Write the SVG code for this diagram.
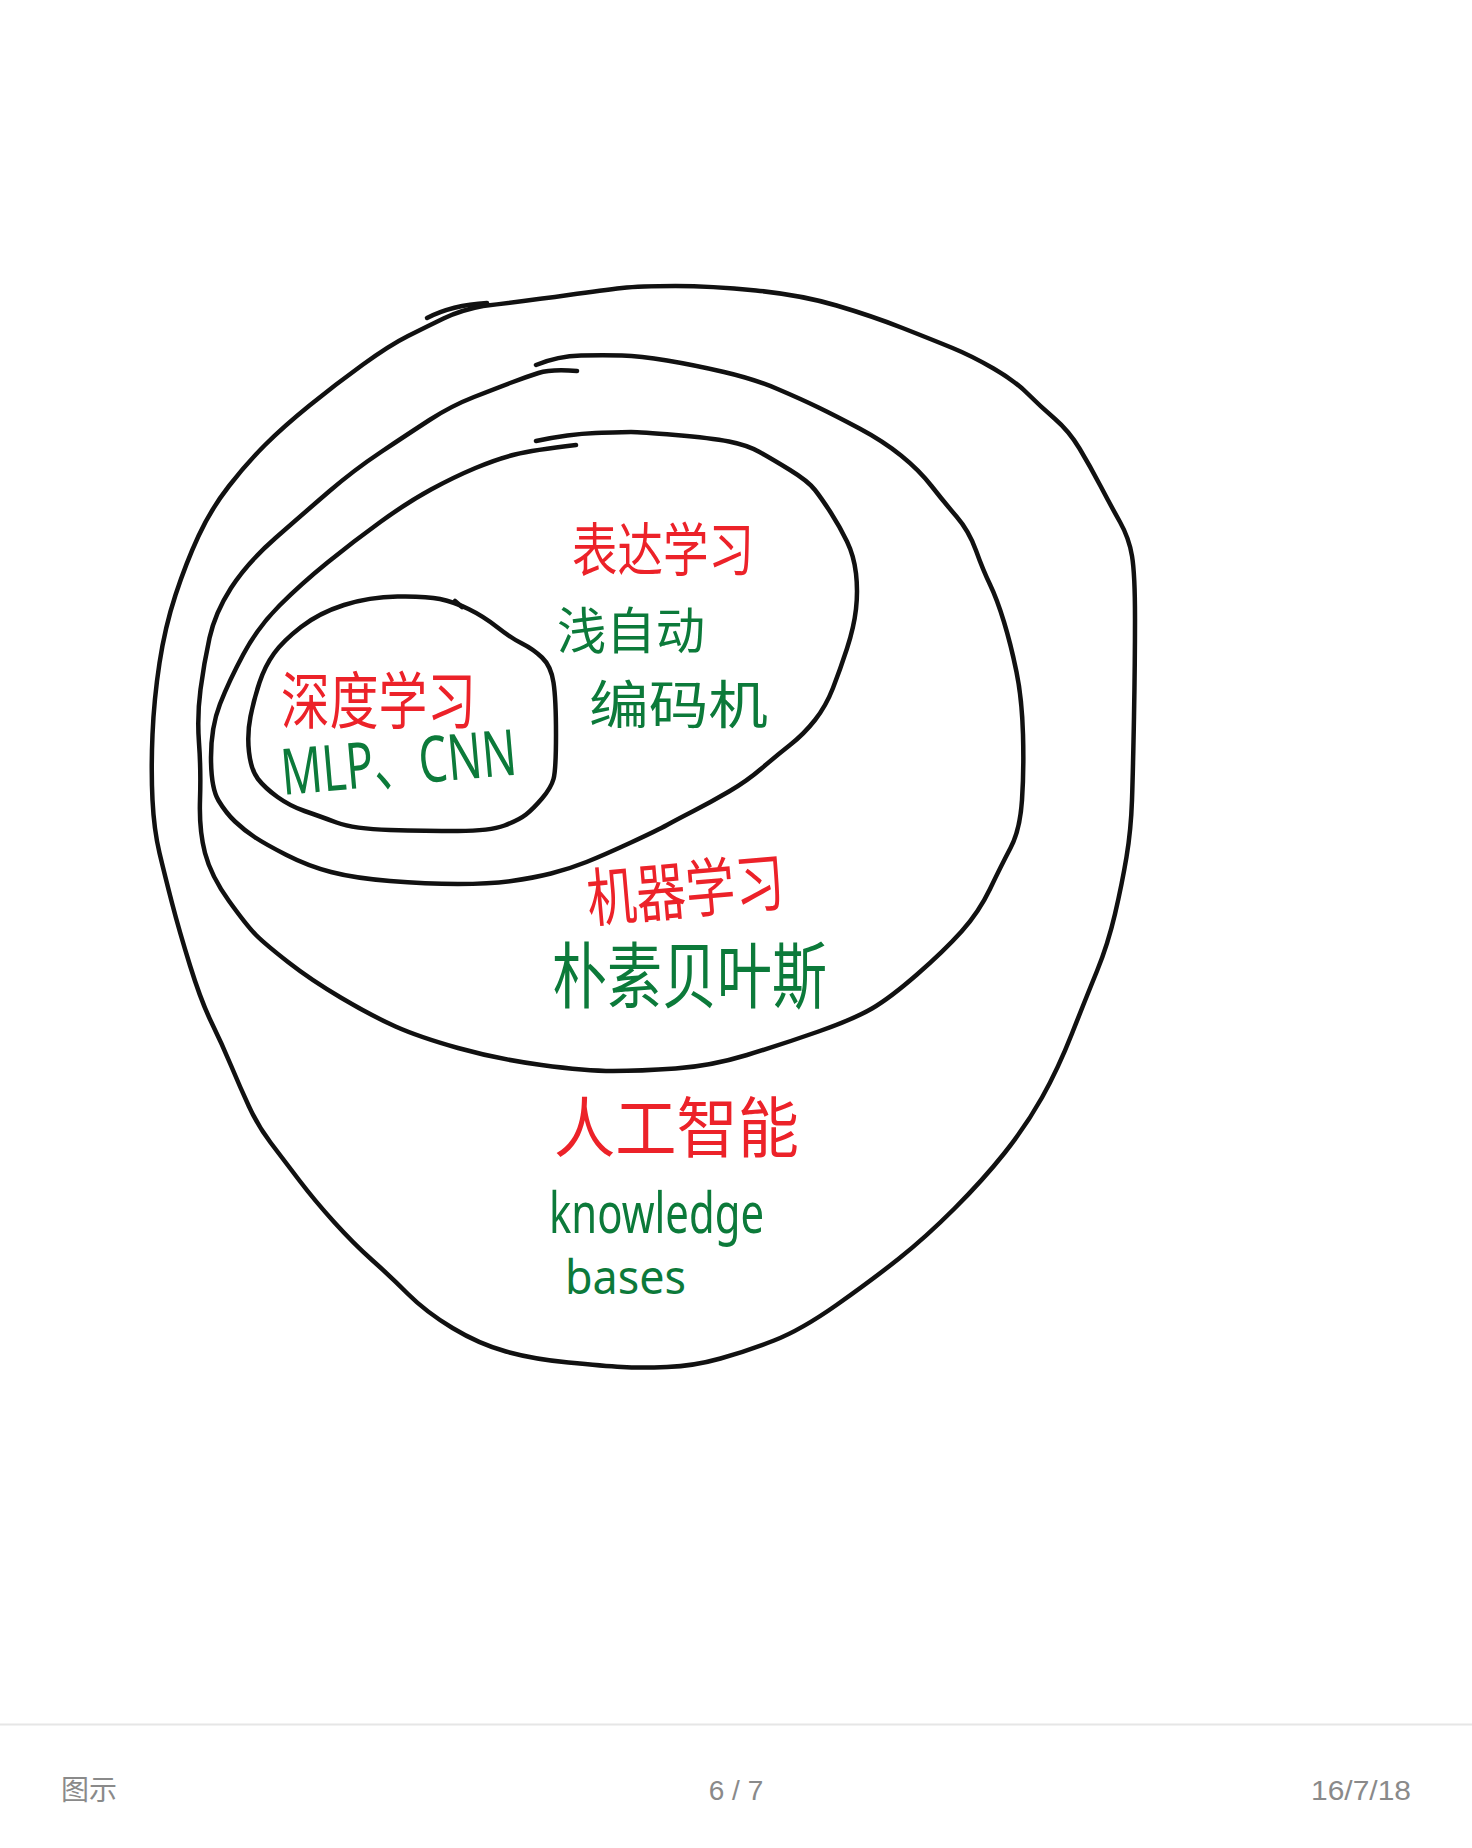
<svg xmlns="http://www.w3.org/2000/svg" width="1472" height="1848" viewBox="0 0 1472 1848">
<style>
.ring{fill:none;stroke:#111;stroke-width:4.5;stroke-linejoin:round;stroke-linecap:round}
.red{fill:#ec2229;font-family:"Noto Sans CJK SC","Noto Sans",sans-serif}
.grn{fill:#0c7a3a;font-family:"Noto Sans CJK SC","Noto Sans",sans-serif}
.lat{fill:#0c7a3a;font-family:"Noto Sans","Noto Sans CJK SC",sans-serif}
.foot{fill:#8a8a8a;font-family:"Liberation Sans","Noto Sans CJK SC",sans-serif;font-size:28px}
</style>
<rect width="1472" height="1848" fill="#fff"/>
<g id="ai">
<path class="ring" d="M483,306 Q533,300 568.5,295 Q604,290 622,288 Q640,286 675.5,286 Q711,286 756,290.5 Q801,295 836.5,305.5 Q872,316 902.5,328 Q933,340 952.5,348 Q972,356 993.5,368.5 Q1015,381 1027.5,393.5 Q1040,406 1054.5,418.5 Q1069,431 1079.5,448.5 Q1090,466 1100.5,486 Q1111,506 1120,522 Q1129,538 1132,556 Q1135,574 1135,618.5 Q1135,663 1134,716.5 Q1133,770 1132,800 Q1131,830 1126.5,857 Q1122,884 1115,914 Q1108,944 1097,971 Q1086,998 1072,1033.5 Q1058,1069 1042,1097.5 Q1026,1126 1004.5,1153 Q983,1180 954.5,1208.5 Q926,1237 899,1258.5 Q872,1280 836.5,1305 Q801,1330 774,1340.5 Q747,1351 720.5,1358.5 Q694,1366 667,1367 Q640,1368 622,1367 Q604,1366 568.5,1362.5 Q533,1359 506,1351.5 Q479,1344 452.5,1328 Q426,1312 408,1294 Q390,1276 372,1260 Q354,1244 334.5,1222.5 Q315,1201 299,1180 Q283,1159 270.5,1142.5 Q258,1126 249,1106.5 Q240,1087 231,1065.5 Q222,1044 211.5,1022.5 Q201,1001 190,965.5 Q179,930 172,903 Q165,876 159.5,853 Q154,830 152.5,800 Q151,770 152.5,734.5 Q154,699 159.5,663 Q165,627 175.5,595 Q186,563 198.5,536 Q211,509 229,486 Q247,463 265,445 Q283,427 309.5,405.5 Q336,384 363,364.5 Q390,345 408,336 Q426,327 443.5,318.5 Q461,310 483,306"/>
<path class="ring" d="M427,318 Q452,305 487,303"/>
<text class="red" x="554" y="1152" font-size="66" textLength="245" lengthAdjust="spacingAndGlyphs">人工智能</text>
<text class="lat" x="549" y="1233" font-size="56" textLength="215" lengthAdjust="spacingAndGlyphs">knowledge</text>
<text class="lat" x="565" y="1294" font-size="48" textLength="121" lengthAdjust="spacingAndGlyphs">bases</text>
</g>
<g id="ml">
<path class="ring" d="M536,365 Q558,356 581,355.5 Q604,355 622,355.5 Q640,356 667,360.5 Q694,365 724,372 Q754,379 777.5,389 Q801,399 818.5,407.5 Q836,416 859.5,428.5 Q883,441 901,455.5 Q919,470 931.5,486 Q944,502 956.5,516.5 Q969,531 976,550.5 Q983,570 990,584.5 Q997,599 1004,622 Q1011,645 1016.5,672 Q1022,699 1023,734.5 Q1024,770 1022,800 Q1020,830 1010.5,848 Q1001,866 990,889 Q979,912 961.5,931.5 Q944,951 917,974.5 Q890,998 872,1008.5 Q854,1019 818.5,1031.5 Q783,1044 747,1055 Q711,1066 675.5,1068.5 Q640,1071 613,1071 Q586,1071 541.5,1065 Q497,1059 458,1048 Q419,1037 395.5,1026.5 Q372,1016 341.5,998 Q311,980 288,962 Q265,944 256,935 Q247,926 229,901 Q211,876 205,853 Q199,830 200,800 Q201,770 199,743 Q197,716 200.5,689.5 Q204,663 209.5,638 Q215,613 231,588 Q247,563 275.5,538 Q304,513 329,491.5 Q354,470 381,452 Q408,434 429.5,420 Q451,406 474,397 Q497,388 511.5,382.5 Q526,377 538.5,373 Q551,369 577,371"/>
<text class="red" x="589" y="922" font-size="64" textLength="198" lengthAdjust="spacingAndGlyphs" transform="rotate(-5 589 922)">机器学习</text>
<text class="grn" x="552" y="1002" font-size="72" textLength="275" lengthAdjust="spacingAndGlyphs">朴素贝叶斯</text>
</g>
<g id="rl">
<path class="ring" d="M536,441 Q569,434 595.5,433 Q622,432 631,432 Q640,432 675.5,435 Q711,438 729,441.5 Q747,445 759.5,452 Q772,459 790,470 Q808,481 815,490 Q822,499 831,513 Q840,527 847,541.5 Q854,556 856,573.5 Q858,591 856,609 Q854,627 847,648.5 Q840,670 833,688 Q826,706 815,720 Q804,734 790,745 Q776,756 761.5,768.5 Q747,781 729,791.5 Q711,802 693.5,811 Q676,820 667,825 Q658,830 631,842.5 Q604,855 586.5,862 Q569,869 551,873.5 Q533,878 511.5,881 Q490,884 458,884 Q426,884 390,881 Q354,878 331,872 Q308,866 286.5,855 Q265,844 254.5,837 Q244,830 235,821.5 Q226,813 218.5,800.5 Q211,788 211,757.5 Q211,727 220,704 Q229,681 243.5,654 Q258,627 279.5,605.5 Q301,584 327.5,562.5 Q354,541 381,521.5 Q408,502 431,489.5 Q454,477 475.5,468 Q497,459 515,454.5 Q533,450 576,445"/>
<text class="red" x="572" y="571" font-size="58" textLength="182" lengthAdjust="spacingAndGlyphs">表达学习</text>
<text class="grn" x="557" y="649" font-size="50" textLength="148" lengthAdjust="spacingAndGlyphs">浅自动</text>
<text class="grn" x="589" y="724" font-size="52" textLength="179" lengthAdjust="spacingAndGlyphs">编码机</text>
</g>
<g id="dl">
<path class="ring" d="M344,605 Q369,597 397.5,596.5 Q426,596 440,599 Q454,602 468.5,609 Q483,616 497,627 Q511,638 522,643.5 Q533,649 542,657.5 Q551,666 553.5,682.5 Q556,699 556,734.5 Q556,770 553.5,779 Q551,788 542,798.5 Q533,809 526,814.5 Q519,820 504.5,825.5 Q490,831 458,831 Q426,831 390,830 Q354,829 336.5,822.5 Q319,816 304.5,811 Q290,806 277.5,797 Q265,788 258,779 Q251,770 249,752 Q247,734 250.5,716.5 Q254,699 259.5,682.5 Q265,666 274,653.5 Q283,641 301,627 Q319,613 344,605 Z"/>
<path class="ring" d="M455,601 L462,607"/>
<text class="red" x="281" y="724" font-size="62" textLength="195" lengthAdjust="spacingAndGlyphs">深度学习</text>
<text class="lat" x="283" y="795" font-size="64" textLength="236" lengthAdjust="spacingAndGlyphs" transform="rotate(-5 283 795)">MLP、CNN</text>
</g>
<g id="connectors"></g>
<g id="footer">
<line x1="0" y1="1724.5" x2="1472" y2="1724.5" stroke="#e6e6e6" stroke-width="2"/>
<text class="foot" x="61" y="1800">图示</text>
<text class="foot" x="736" y="1800" text-anchor="middle">6 / 7</text>
<text class="foot" x="1311" y="1800" textLength="100" lengthAdjust="spacingAndGlyphs">16/7/18</text>
</g>
</svg>
